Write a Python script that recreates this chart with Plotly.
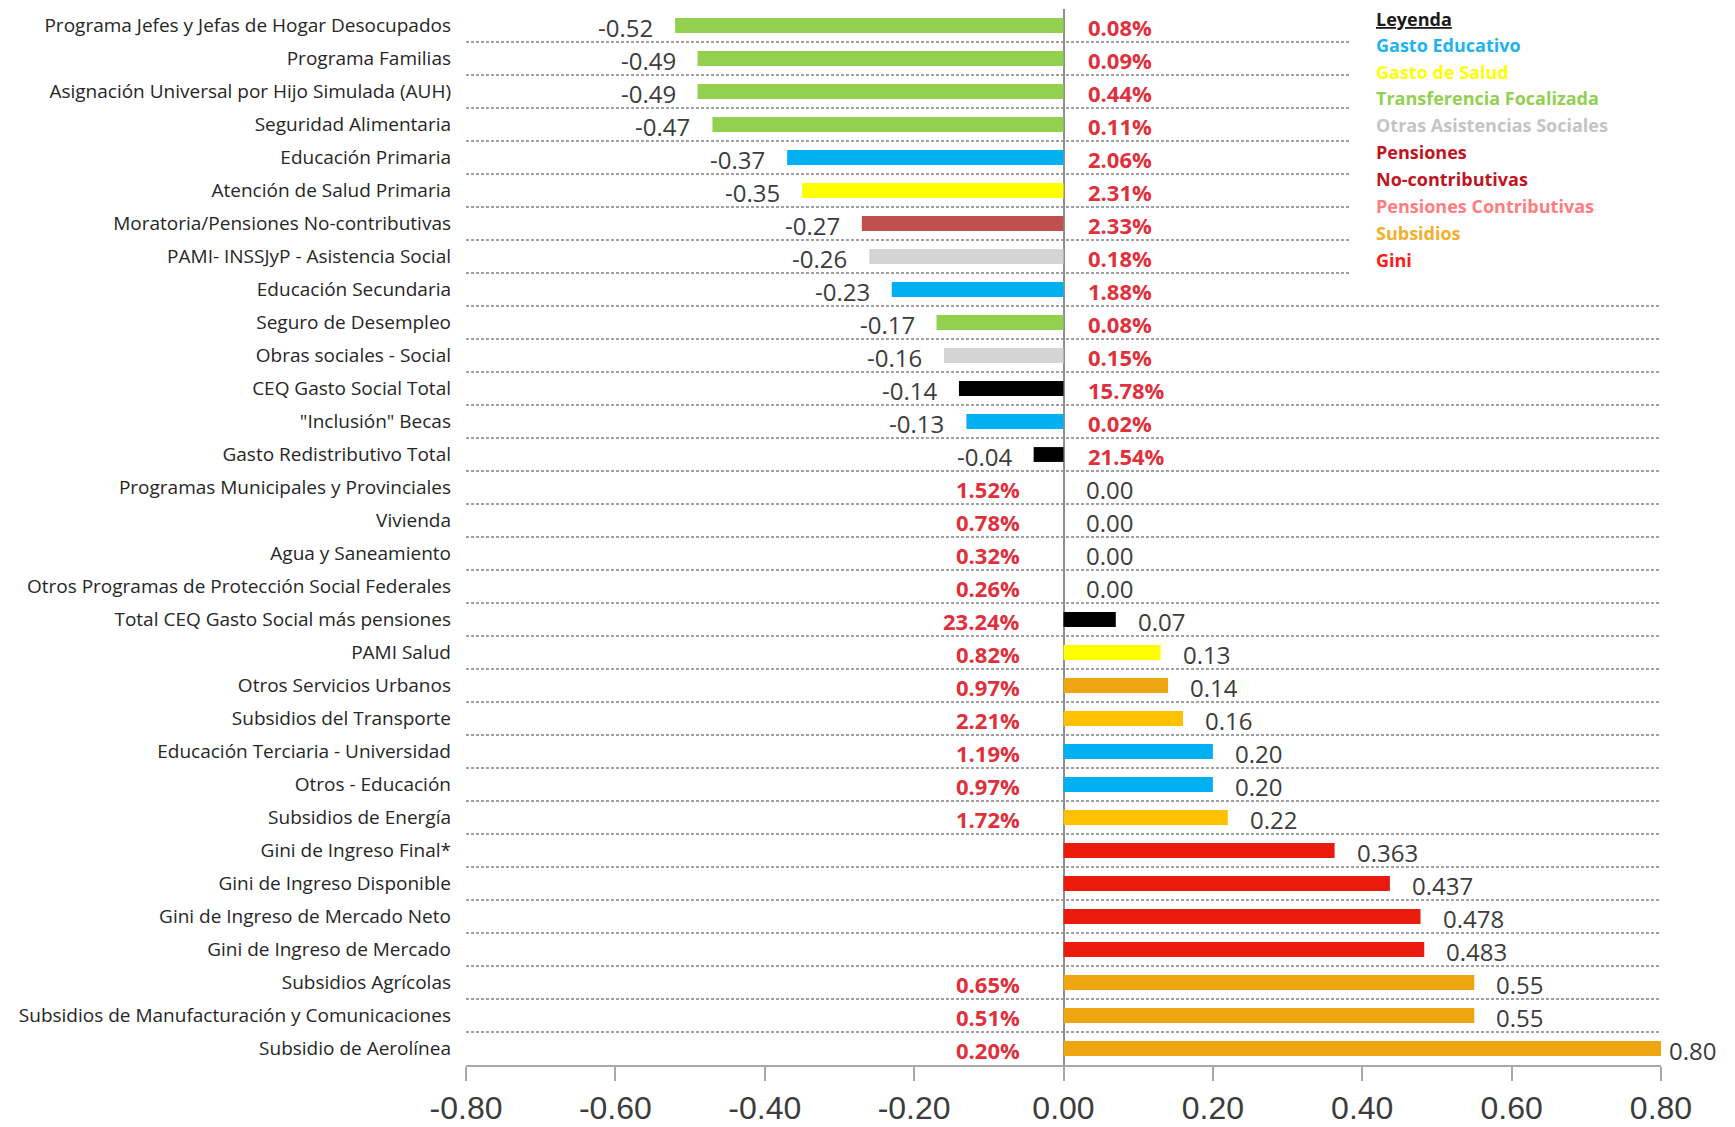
import plotly.graph_objects as go

# ---------------- data ----------------
categories = [
    "Programa Jefes y Jefas de Hogar Desocupados",
    "Programa Familias",
    "Asignación Universal por Hijo Simulada (AUH)",
    "Seguridad Alimentaria",
    "Educación Primaria",
    "Atención de Salud Primaria",
    "Moratoria/Pensiones No-contributivas",
    "PAMI- INSSJyP - Asistencia Social",
    "Educación Secundaria",
    "Seguro de Desempleo",
    "Obras sociales - Social",
    "CEQ Gasto Social Total",
    "\"Inclusión\" Becas",
    "Gasto Redistributivo Total",
    "Programas Municipales y Provinciales",
    "Vivienda",
    "Agua y Saneamiento",
    "Otros Programas de Protección Social Federales",
    "Total CEQ Gasto Social más pensiones",
    "PAMI Salud",
    "Otros Servicios Urbanos",
    "Subsidios del Transporte",
    "Educación Terciaria - Universidad",
    "Otros - Educación",
    "Subsidios de Energía",
    "Gini de Ingreso Final*",
    "Gini de Ingreso Disponible",
    "Gini de Ingreso de Mercado Neto",
    "Gini de Ingreso de Mercado",
    "Subsidios Agrícolas",
    "Subsidios de Manufacturación y Comunicaciones",
    "Subsidio de Aerolínea",
]

values = [
    -0.52, -0.49, -0.49, -0.47, -0.37, -0.35, -0.27, -0.26, -0.23, -0.17,
    -0.16, -0.14, -0.13, -0.04, 0.00, 0.00, 0.00, 0.00, 0.07, 0.13,
    0.14, 0.16, 0.20, 0.20, 0.22, 0.363, 0.437, 0.478, 0.483, 0.55,
    0.55, 0.80,
]

groups = [
    "transf", "transf", "transf", "transf", "educ", "salud", "pens_nc", "otras",
    "educ", "transf", "otras", "total", "educ", "total", "otras", "otras",
    "otras", "otras", "total", "salud", "subs", "subs_t", "educ", "educ",
    "subs_t", "gini", "gini", "gini", "gini", "subs", "subs", "subs",
]

pct_labels = [
    "0.08%", "0.09%", "0.44%", "0.11%", "2.06%", "2.31%", "2.33%", "0.18%",
    "1.88%", "0.08%", "0.15%", "15.78%", "0.02%", "21.54%", "1.52%", "0.78%",
    "0.32%", "0.26%", "23.24%", "0.82%", "0.97%", "2.21%", "1.19%", "0.97%",
    "1.72%", None, None, None, None, "0.65%", "0.51%", "0.20%",
]

x_ticks = [-0.80, -0.60, -0.40, -0.20, 0.00, 0.20, 0.40, 0.60, 0.80]

legend_items = [
    "Gasto Educativo", "Gasto de Salud", "Transferencia Focalizada",
    "Otras Asistencias Sociales", "Pensiones", "No-contributivas",
    "Pensiones Contributivas", "Subsidios", "Gini",
]

# ---------------- styles ----------------
group_colors = {
    "transf": "#92d050",
    "educ": "#00b0f0",
    "salud": "#ffff00",
    "pens_nc": "#c0504d",
    "otras": "#d4d4d4",
    "total": "#000000",
    "subs": "#eea512",
    "subs_t": "#ffc000",
    "gini": "#ea1a0c",
}
legend_colors = ["#1eb2ee", "#ffff00", "#92d050", "#c4c4c4", "#c0141e",
                 "#c0141e", "#ff7c80", "#f2b02c", "#ff1a1a"]

X_MIN, X_MAX = -0.8, 0.8

# page body has an 8px default margin; compensate so the figure lands where the reference is
BODY = 8
W, H = 1735 - BODY, 1127 - BODY
ML, MT = 466 - BODY, 9 - BODY
PW, PH = 1195, 1062
MR, MB = W - ML - PW, H - MT - PH

def px_to_paper_x(px):
    return (px - BODY - ML) / PW

def px_to_paper_y(py):
    return 1 - (py - BODY - MT) / PH

FONT = "Open Sans, Liberation Sans, sans-serif"
ypos = list(range(len(categories)))

fig = go.Figure()
fig.add_trace(go.Bar(
    x=values, y=ypos, orientation="h", width=0.45,
    marker=dict(color=[group_colors[g] for g in groups], line=dict(width=0)),
    hoverinfo="x+y", showlegend=False,
))

annotations = []
# value labels
for i, v in enumerate(values):
    txt = ("{:.3f}" if groups[i] == "gini" else "{:.2f}").format(v)
    if v < 0:
        anchor, shift = "right", -20
    else:
        anchor, shift = "left", (6 if v >= X_MAX else 20)
    annotations.append(dict(
        x=v, y=i, xref="x", yref="y", text=txt, showarrow=False,
        xanchor=anchor, xshift=shift,
        yshift=-2, font=dict(family=FONT, size=24, color="#3c3c3c"),
    ))
# percentage labels
for i, p in enumerate(pct_labels):
    if p is None:
        continue
    neg = values[i] < 0
    annotations.append(dict(
        x=0, y=i, xref="x", yref="y", text="<b>" + p + "</b>", showarrow=False,
        xanchor="left" if neg else "right", xshift=22 if neg else -42,
        yshift=-1, font=dict(family=FONT, size=22, color="#e0303c"),
    ))
# legend block
lx = px_to_paper_x(1374)
annotations.append(dict(
    x=lx, y=px_to_paper_y(19), xref="paper", yref="paper",
    text="<b><u>Leyenda</u></b>", showarrow=False, xanchor="left", yanchor="middle",
    font=dict(family=FONT, size=18, color="#1a1a1a"),
))
for k, (name, col) in enumerate(zip(legend_items, legend_colors)):
    annotations.append(dict(
        x=lx, y=px_to_paper_y(45 + 27.0 * k), xref="paper", yref="paper",
        text="<b>" + name + "</b>", showarrow=False, xanchor="left", yanchor="middle",
        font=dict(family=FONT, size=18, color=col),
    ))

shapes = [dict(
    type="rect", xref="paper", yref="y", x0=px_to_paper_x(1350), x1=1.0,
    y0=-0.7, y1=8.0, fillcolor="white", line=dict(width=0), layer="above",
)]

fig.update_layout(
    width=W, height=H,
    margin=dict(l=ML, r=MR, t=MT, b=MB),
    paper_bgcolor="white", plot_bgcolor="white",
    annotations=annotations, shapes=shapes,
    xaxis=dict(
        range=[X_MIN, X_MAX], tickmode="array", tickvals=x_ticks,
        ticktext=["{:.2f}".format(t) for t in x_ticks],
        showgrid=False, zeroline=True, zerolinecolor="#8f8f8f", zerolinewidth=2,
        showline=True, linecolor="#a8a8a8", linewidth=2,
        ticks="outside", ticklen=14, tickwidth=2, tickcolor="#a8a8a8",
        tickfont=dict(family="Liberation Sans Narrow, Liberation Sans, sans-serif",
                      size=32, color="#3c3c3c"),
        fixedrange=True,
    ),
    yaxis=dict(
        range=[len(categories) - 0.5, -0.5],
        tickmode="array", tickvals=ypos, ticktext=categories,
        showgrid=False, zeroline=False, showline=False, ticks="",
        ticklabelstandoff=14,
        tickfont=dict(family=FONT, size=19, color="#262626"),
        minor=dict(tickmode="linear", tick0=0.5, dtick=1, showgrid=True,
                   gridcolor="#a0a0a0", gridwidth=1.5, griddash="3px,2px", ticks=""),
        fixedrange=True,
    ),
)

fig.write_html("out.html")
